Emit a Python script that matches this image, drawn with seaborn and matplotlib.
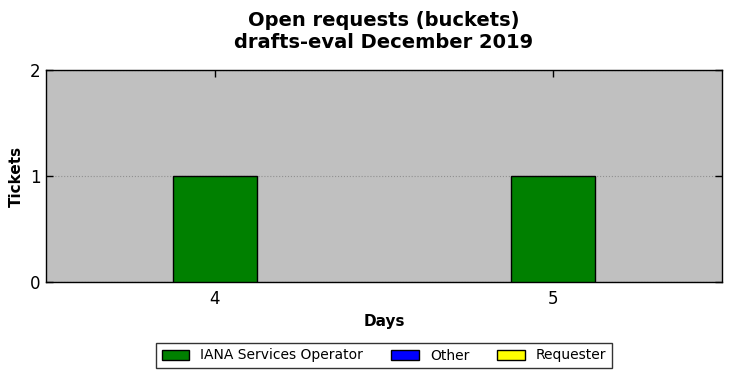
import matplotlib
matplotlib.use("Agg")
import matplotlib.pyplot as plt
from matplotlib.patches import Patch
import seaborn as sns
import pandas as pd

days = [4, 5]
series_names = ["IANA Services Operator", "Other", "Requester"]
iana_values = [1, 1]
other_values = [0, 0]
requester_values = [0, 0]
series_colors = ["green", "blue", "yellow"]

sns.set_style("ticks")
plt.rcParams['font.family'] = ['DejaVu Sans']
plt.rcParams['text.color'] = 'black'
plt.rcParams['axes.labelcolor'] = 'black'
plt.rcParams['xtick.color'] = 'black'
plt.rcParams['ytick.color'] = 'black'

fig = plt.figure(figsize=(7.31, 3.78), dpi=100)
ax = fig.add_axes([46/731, 1-282/378, (722-46)/731, (282-70)/378])
ax.set_facecolor("#c0c0c0")

df = pd.DataFrame({"Days": days, "IANA": iana_values, "Other": other_values, "Requester": requester_values})

sns.barplot(data=df, x="Days", y="IANA", native_scale=True, width=0.25, ax=ax,
            color="green", saturation=1, edgecolor="black", linewidth=1, zorder=3, errorbar=None)

ax.set_xlim(3.5, 5.5)
ax.set_ylim(0, 2)
ax.set_xticks(days)
ax.set_xticklabels([str(d) for d in days])
ax.set_yticks([0, 1, 2])
ax.tick_params(direction="in", top=True, right=True, labelsize=12, length=5, width=1,
               colors="black")
ax.tick_params(axis="x", pad=6)
ax.tick_params(axis="y", pad=4)
ax.yaxis.grid(True, linestyle=":", color="#909090", linewidth=0.8, zorder=0)
ax.set_axisbelow(True)
for s in ax.spines.values():
    s.set_linewidth(1)
    s.set_color("black")

ax.set_xlabel("Days", fontsize=11, fontweight="bold", color="black")
ax.set_ylabel("Tickets", fontsize=11, fontweight="bold", color="black", labelpad=4)
ax.set_title("Open requests (buckets)\ndrafts-eval December 2019", fontsize=14, fontweight="bold",
             pad=16, color="black")

handles = [Patch(facecolor=c, edgecolor="black", label=n) for n, c in zip(series_names, series_colors)]
leg = fig.legend(handles=handles, loc="lower center", bbox_to_anchor=(384/731, 3/378), ncol=3,
                 fontsize=10, frameon=True, fancybox=False, edgecolor="black",
                 handlelength=2.0, handleheight=0.7, columnspacing=2.0, borderpad=0.4)
for t in leg.get_texts():
    t.set_color("black")

fig.savefig("out.png", dpi=100)
